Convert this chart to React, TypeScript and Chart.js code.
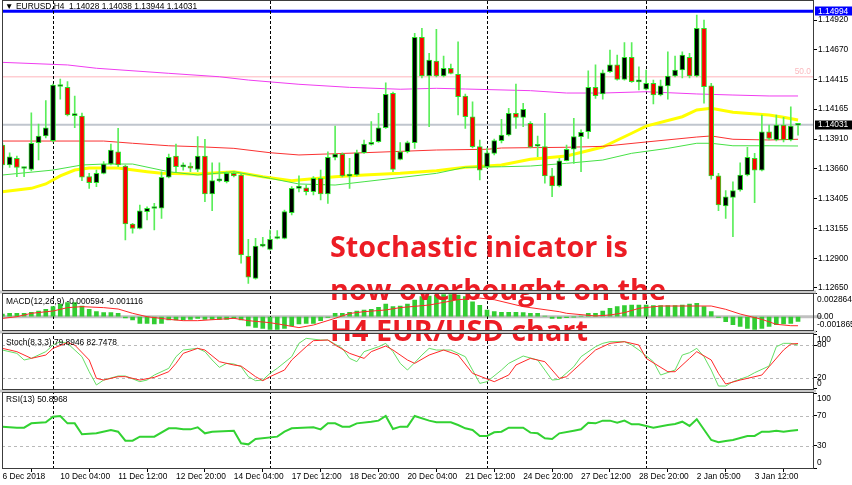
import React, { useEffect, useRef } from 'react';
import { Chart, registerables } from 'chart.js';

Chart.register(...registerables);

// ---------------- data ----------------
const xTickLabels = ['6 Dec 2018', '10 Dec 04:00', '11 Dec 12:00', '12 Dec 20:00', '14 Dec 04:00', '17 Dec 12:00', '18 Dec 20:00', '20 Dec 04:00', '21 Dec 12:00', '24 Dec 20:00', '27 Dec 12:00', '28 Dec 20:00', '2 Jan 05:00', '3 Jan 12:00'];
const xTickBars = [0, 8, 16, 24, 32, 40, 48, 56, 64, 72, 80, 88, 96, 104];
const separatorBars = [7, 37, 67, 89];

const opens = [1.13860, 1.13691, 1.13748, 1.13661, 1.13654, 1.13880, 1.13937, 1.13897, 1.14356, 1.14349, 1.14110, 1.14106, 1.13592, 1.13541, 1.13620, 1.13699, 1.13803, 1.13682, 1.13191, 1.13154, 1.13295, 1.13322, 1.13324, 1.13587, 1.13767, 1.13675, 1.13678, 1.13654, 1.13767, 1.13445, 1.13556, 1.13549, 1.13620, 1.13606, 1.12919, 1.12730, 1.13003, 1.12976, 1.13068, 1.13069, 1.13286, 1.13493, 1.13498, 1.13465, 1.13578, 1.13445, 1.13756, 1.13784, 1.13596, 1.13606, 1.13795, 1.13866, 1.13888, 1.14007, 1.14299, 1.13739, 1.13803, 1.13880, 1.14773, 1.14445, 1.14572, 1.14445, 1.14511, 1.14460, 1.14276, 1.14100, 1.13846, 1.13676, 1.13790, 1.13897, 1.13945, 1.14129, 1.14095, 1.14044, 1.13850, 1.13846, 1.13598, 1.13513, 1.13727, 1.13824, 1.13931, 1.13973, 1.14349, 1.14293, 1.14482, 1.14539, 1.14417, 1.14604, 1.14396, 1.14333, 1.14383, 1.14284, 1.14361, 1.14445, 1.14496, 1.14604, 1.14445, 1.14850, 1.14361, 1.13598, 1.13343, 1.13417, 1.13479, 1.13606, 1.13748, 1.13648, 1.13973, 1.13903, 1.14030, 1.13903, 1.14028];
const highs = [1.13877, 1.13795, 1.13767, 1.13674, 1.14134, 1.14038, 1.14236, 1.14377, 1.14420, 1.14397, 1.14276, 1.14132, 1.13620, 1.13648, 1.13719, 1.13869, 1.14002, 1.13691, 1.13197, 1.13352, 1.13337, 1.13366, 1.13634, 1.13784, 1.13869, 1.13710, 1.13710, 1.13931, 1.13909, 1.13710, 1.13710, 1.13634, 1.13631, 1.13620, 1.13061, 1.13069, 1.13078, 1.13140, 1.13134, 1.13309, 1.13507, 1.13598, 1.13521, 1.13592, 1.13648, 1.13803, 1.14021, 1.13795, 1.13748, 1.13818, 1.13903, 1.14058, 1.14129, 1.14388, 1.14310, 1.13880, 1.13894, 1.14807, 1.14850, 1.14638, 1.14841, 1.14615, 1.14547, 1.14736, 1.14293, 1.14227, 1.13903, 1.13835, 1.13911, 1.14078, 1.14171, 1.14377, 1.14214, 1.14058, 1.13937, 1.14129, 1.13663, 1.13748, 1.13860, 1.14087, 1.13988, 1.14490, 1.14539, 1.14496, 1.14666, 1.14623, 1.14728, 1.14728, 1.14524, 1.14496, 1.14411, 1.14411, 1.14651, 1.14615, 1.14651, 1.14638, 1.14962, 1.14920, 1.14383, 1.13620, 1.13473, 1.13549, 1.13710, 1.13841, 1.13790, 1.14115, 1.14030, 1.14115, 1.14095, 1.14185, 1.14038];
const lows = [1.13665, 1.13671, 1.13592, 1.13592, 1.13640, 1.13733, 1.13920, 1.13886, 1.14248, 1.14106, 1.14007, 1.13558, 1.13493, 1.13507, 1.13615, 1.13691, 1.13676, 1.13055, 1.13112, 1.13148, 1.13225, 1.13140, 1.13239, 1.13581, 1.13634, 1.13648, 1.13634, 1.13634, 1.13380, 1.13303, 1.13547, 1.13538, 1.13589, 1.12858, 1.12688, 1.12724, 1.12996, 1.12970, 1.13064, 1.13064, 1.13267, 1.13462, 1.13437, 1.13437, 1.13394, 1.13366, 1.13733, 1.13589, 1.13493, 1.13598, 1.13788, 1.13860, 1.13882, 1.14000, 1.13634, 1.13733, 1.13793, 1.13832, 1.14428, 1.14016, 1.14437, 1.14437, 1.14462, 1.14115, 1.14002, 1.13835, 1.13564, 1.13665, 1.13776, 1.13877, 1.13937, 1.14002, 1.14016, 1.13835, 1.13761, 1.13536, 1.13422, 1.13504, 1.13725, 1.13705, 1.13634, 1.13917, 1.14256, 1.14248, 1.14475, 1.14411, 1.14411, 1.14390, 1.14327, 1.14327, 1.14208, 1.14276, 1.14248, 1.14437, 1.14428, 1.14428, 1.14437, 1.14214, 1.13570, 1.13303, 1.13239, 1.13083, 1.13470, 1.13598, 1.13371, 1.13640, 1.13903, 1.13894, 1.13886, 1.13894, 1.13944];
const closes = [1.13691, 1.13761, 1.13671, 1.13664, 1.13875, 1.13937, 1.14007, 1.14369, 1.14361, 1.14115, 1.14113, 1.13587, 1.13541, 1.13620, 1.13699, 1.13818, 1.13691, 1.13191, 1.13154, 1.13303, 1.13324, 1.13325, 1.13587, 1.13756, 1.13676, 1.13677, 1.13665, 1.13767, 1.13445, 1.13558, 1.13559, 1.13620, 1.13598, 1.12928, 1.12739, 1.13004, 1.13005, 1.13061, 1.13070, 1.13295, 1.13493, 1.13513, 1.13465, 1.13578, 1.13445, 1.13756, 1.13784, 1.13598, 1.13598, 1.13795, 1.13869, 1.13880, 1.14007, 1.14290, 1.13654, 1.13803, 1.13880, 1.14773, 1.14445, 1.14581, 1.14445, 1.14511, 1.14468, 1.14270, 1.14100, 1.13846, 1.13648, 1.13795, 1.13897, 1.13945, 1.14129, 1.14095, 1.14163, 1.13841, 1.13853, 1.13598, 1.13513, 1.13727, 1.13824, 1.13931, 1.13968, 1.14349, 1.14278, 1.14473, 1.14539, 1.14417, 1.14604, 1.14397, 1.14399, 1.14383, 1.14284, 1.14361, 1.14445, 1.14496, 1.14623, 1.14445, 1.14850, 1.14354, 1.13598, 1.13352, 1.13422, 1.13473, 1.13606, 1.13756, 1.13648, 1.13973, 1.13917, 1.14030, 1.13903, 1.14021, 1.14031];

// moving averages: [bar index, price]
const yellowMA: [number, number][] = [[0, 1.13465], [4, 1.13493], [6, 1.13530], [8, 1.13598], [10, 1.13648], [12, 1.13665], [16, 1.13665], [20, 1.13634], [22, 1.13620], [27, 1.13615], [32, 1.13634], [36, 1.13592], [40, 1.13558], [41, 1.13564], [46, 1.13592], [50, 1.13606], [55, 1.13620], [60, 1.13643], [64, 1.13671], [67, 1.13682], [69, 1.13691], [73, 1.13739], [78, 1.13767], [83, 1.13843], [87, 1.13960], [89, 1.14021], [94, 1.14100], [96, 1.14157], [98, 1.14171], [101, 1.14138], [106, 1.14115], [108, 1.14095], [110, 1.14072]];
const redMA: [number, number][] = [[0, 1.13894], [14, 1.13894], [18, 1.13875], [23, 1.13854], [27, 1.13846], [32, 1.13832], [37, 1.13795], [41, 1.13776], [50, 1.13795], [60, 1.13818], [67, 1.13824], [69, 1.13835], [78, 1.13841], [83, 1.13849], [89, 1.13886], [96, 1.13928], [98, 1.13937], [101, 1.13909], [106, 1.13903], [110, 1.13909]];
const greenMA: [number, number][] = [[0, 1.13606], [7, 1.13648], [11, 1.13691], [14, 1.13699], [18, 1.13699], [23, 1.13634], [27, 1.13606], [32, 1.13634], [37, 1.13578], [41, 1.13530], [46, 1.13521], [50, 1.13549], [60, 1.13620], [64, 1.13671], [69, 1.13676], [73, 1.13682], [78, 1.13705], [83, 1.13733], [87, 1.13790], [92, 1.13832], [96, 1.13875], [98, 1.13875], [101, 1.13854], [106, 1.13854], [110, 1.13852]];
const magentaMA: [number, number][] = [[0, 1.14561], [9, 1.14539], [13, 1.14511], [23, 1.14468], [30, 1.14439], [34, 1.14411], [41, 1.14375], [48, 1.14349], [55, 1.14333], [60, 1.14341], [64, 1.14335], [73, 1.14321], [78, 1.14301], [83, 1.14301], [89, 1.14312], [96, 1.14293], [101, 1.14284], [106, 1.14276], [110, 1.14276]];

const priceTicks = [1.1492, 1.1467, 1.14415, 1.14165, 1.1391, 1.1366, 1.13405, 1.13155, 1.129, 1.1265];
const blueLineLevel = 1.14994;
const bidLevel = 1.14031;
const fiboLevel = 1.14439;
const fiboLabel = '50.0';

const macdHist = [0.00033, 0.00042, 0.00042, 0.00042, 0.00054, 0.00070, 0.00091, 0.00124, 0.00157, 0.00173, 0.00173, 0.00132, 0.00091, 0.00062, 0.00050, 0.00050, 0.00042, -0.00016, -0.00041, -0.00082, -0.00082, -0.00090, -0.00082, -0.00041, -0.00041, -0.00041, -0.00033, -0.00020, -0.00033, -0.00033, -0.00033, -0.00033, -0.00020, -0.00041, -0.00115, -0.00131, -0.00144, -0.00156, -0.00156, -0.00144, -0.00115, -0.00090, -0.00082, -0.00082, -0.00049, -0.00008, 0.00042, 0.00042, 0.00054, 0.00070, 0.00083, 0.00091, 0.00116, 0.00157, 0.00124, 0.00132, 0.00157, 0.00206, 0.00247, 0.00255, 0.00263, 0.00272, 0.00272, 0.00268, 0.00247, 0.00185, 0.00140, 0.00083, 0.00062, 0.00054, 0.00054, 0.00054, 0.00050, 0.00042, 0.00042, 0.00009, -0.00020, -0.00020, -0.00012, -0.00001, 0.00009, 0.00042, 0.00042, 0.00070, 0.00103, 0.00124, 0.00136, 0.00144, 0.00144, 0.00144, 0.00136, 0.00136, 0.00136, 0.00136, 0.00144, 0.00157, 0.00165, 0.00124, 0.00062, -0.00008, -0.00061, -0.00099, -0.00119, -0.00144, -0.00156, -0.00144, -0.00119, -0.00099, -0.00090, -0.00082, -0.000594];
const macdSignal: [number, number][] = [[0, -0.00021], [2, 0], [4, 0.00042], [7, 0.0007], [9, 0.00112], [11, 0.00124], [14, 0.00112], [16, 0.00095], [18, 0.00042], [20, 0], [23, -0.00033], [25, -0.00049], [27, -0.00049], [32, -0.0002], [34, -0.00049], [37, -0.00074], [39, -0.00103], [41, -0.00135], [43, -0.00103], [46, -0.0002], [48, 0.0004], [50, 0.00062], [53, 0.00083], [55, 0.00112], [59, 0.00144], [63, 0.0021], [66, 0.0023], [68, 0.0021], [72, 0.00124], [77, 0.00062], [78, 0.00042], [82, 0.00009], [84, 0.00021], [86, 0.0005], [88, 0.00103], [91, 0.00132], [95, 0.00132], [98, 0.00132], [100, 0.00091], [102, 0.00033], [105, -0.00033], [107, -0.00094], [109, -0.00111], [110, -0.001116]];
const macdTicks = [0.002864, 0, -0.001865];
const macdTickLabels = ['0.002864', '0.00', '-0.001865'];

const stochK: [number, number][] = [[0, 70.8], [2, 64.7], [3, 52.5], [4, 55.5], [6, 67.8], [7, 80], [8, 86.1], [9, 83.1], [11, 58.6], [12, 31], [13, 6.6], [14, 15.7], [16, 23.1], [17, 23.1], [19, 12.7], [20, 15.7], [21, 24.9], [23, 37.2], [24, 58.6], [25, 70.8], [27, 73.9], [28, 67.8], [29, 52.5], [30, 39], [31, 46.3], [32, 45.1], [33, 40.2], [34, 21.9], [35, 14.5], [36, 15.7], [37, 28], [38, 37.2], [40, 58.6], [41, 83.1], [42, 92.2], [44, 89.2], [45, 89.2], [47, 73.9], [48, 55.5], [49, 49.4], [50, 67.8], [52, 76.9], [53, 83.1], [54, 67.8], [55, 46.3], [56, 34.1], [57, 47.6], [58, 61.6], [59, 73.9], [60, 70.8], [62, 70.8], [64, 58.6], [65, 34.1], [66, 9.6], [67, 12.7], [69, 34.1], [70, 46.3], [72, 59.8], [74, 52.5], [75, 34.1], [76, 15.7], [77, 17], [79, 40.2], [80, 58.6], [82, 76.9], [83, 83.1], [84, 86.1], [86, 86.1], [87, 80], [88, 70.8], [90, 49.4], [91, 24.9], [93, 34.1], [94, 61.6], [95, 65.9], [96, 73.9], [97, 58.6], [98, 34.1], [99, 4.7], [100, 4.7], [101, 12.7], [103, 21.9], [104, 29.2], [106, 41.4], [107, 76.9], [108, 83.1], [109, 83.1], [110, 79.8946]];
const stochD: [number, number][] = [[0, 73.9], [2, 67.8], [4, 55.5], [6, 61.6], [7, 73.9], [9, 84.3], [10, 80], [12, 52.5], [13, 18.8], [14, 15.7], [16, 21.9], [17, 21.9], [19, 15.7], [21, 20.6], [23, 31], [24, 46.3], [25, 64.7], [27, 73.9], [28, 70.8], [30, 49.4], [32, 43.3], [33, 41.4], [35, 21.9], [36, 14.5], [37, 21.9], [39, 34.1], [40, 52.5], [42, 76.9], [43, 88], [45, 89.2], [46, 80], [48, 64.7], [50, 55.5], [51, 67.8], [53, 78.2], [54, 70.8], [56, 52.5], [57, 46.3], [59, 61.6], [61, 70.8], [63, 61.6], [65, 28], [68, 12.7], [70, 24.9], [71, 43.3], [73, 55.5], [75, 49.4], [77, 18.8], [78, 21.9], [80, 46.3], [82, 70.8], [84, 83.1], [86, 86.1], [88, 80], [89, 55.5], [92, 31], [93, 31], [95, 55.5], [96, 67.8], [98, 52.5], [99, 28], [100, 8.4], [102, 15.7], [105, 24.9], [106, 40.2], [108, 70.8], [109, 81.8], [110, 82.7478]];
const stochTicks = [100, 80, 20, 0];
const stochLevels = [80, 20];

const rsiLine: [number, number][] = [[0, 55.4], [2, 54.0], [3, 54.0], [4, 59.8], [6, 61.2], [7, 68.7], [8, 69.6], [9, 59.8], [10, 59.8], [11, 45.2], [13, 46.5], [15, 50.9], [16, 48.7], [17, 36.7], [18, 36.7], [19, 42.1], [21, 42.1], [23, 53.2], [24, 53.2], [25, 51.8], [26, 51.8], [27, 54.5], [28, 46.5], [29, 48.7], [32, 50.0], [33, 33.2], [34, 31.8], [35, 38.9], [38, 42.1], [39, 48.7], [40, 53.2], [43, 54.5], [44, 51.8], [45, 59.8], [46, 59.8], [47, 55.4], [48, 55.4], [49, 59.8], [51, 62.0], [52, 63.4], [53, 69.6], [54, 52.3], [55, 55.4], [56, 55.4], [57, 69.6], [59, 63.4], [60, 61.2], [62, 61.2], [63, 57.6], [64, 53.2], [65, 50.9], [66, 43], [67, 43], [68, 47.8], [69, 48.7], [70, 54.0], [72, 54.0], [73, 47.4], [74, 46.5], [75, 39.8], [76, 38.9], [77, 46.5], [79, 50.0], [80, 51.8], [81, 60.7], [82, 59.8], [83, 63.4], [84, 63.4], [85, 60.7], [86, 63.4], [87, 58.5], [88, 58.5], [90, 54.0], [92, 57.6], [93, 58.9], [94, 62.0], [95, 56.3], [96, 65.2], [98, 37.6], [99, 34.5], [100, 36.3], [101, 37.6], [103, 43], [104, 43], [105, 48.7], [106, 48.7], [107, 50], [108, 48.7], [109, 50], [110, 50.8968]];
const rsiTicks = [100, 70, 30, 0];
const rsiLevels = [70, 30];

const headerMarker = '\u25BC';
const headerText = 'EURUSD,H4  1.14028 1.14038 1.13944 1.14031';
const macdTitle = 'MACD(12,26,9) -0.000594 -0.001116';
const stochTitle = 'Stoch(8,3,3) 79.8946 82.7478';
const rsiTitle = 'RSI(13) 50.8968';
const noteLines = ['Stochastic inicator is', 'now overbought on the', 'H4 EUR/USD chart'];

// ---------------- layout / style ----------------
const W = 852;
const H = 485;
const FONT_FAMILY = '"Liberation Sans", "DejaVu Sans", Arial, sans-serif';
const SMALL = 8.4;
const smallFont = `${SMALL}px ${FONT_FAMILY}`;
const PLOT_LEFT = 2;
const PLOT_RIGHT = 813;
const FRAMES = [
  { top: 0.5, bottom: 290.5 },
  { top: 293.5, bottom: 330.5 },
  { top: 333.5, bottom: 389.5 },
  { top: 392.5, bottom: 468.5 },
];

const pts = (arr: [number, number][]) => arr.map(([x, y]) => ({ x, y }));

function hLine(ctx: CanvasRenderingContext2D, y: number, x0: number, x1: number, color: string, width: number, dash?: number[]) {
  ctx.save();
  ctx.beginPath();
  ctx.strokeStyle = color;
  ctx.lineWidth = width;
  if (dash) ctx.setLineDash(dash);
  ctx.moveTo(x0, y);
  ctx.lineTo(x1, y);
  ctx.stroke();
  ctx.restore();
}

const clamp = (v: number, a: number, b: number) => Math.max(a, Math.min(b, v));

const mt4Plugin = {
  id: 'mt4',
  beforeDatasetsDraw(chart: any) {
    const { ctx, chartArea, scales } = chart;
    const L = chartArea.left;
    const R = chartArea.right;
    const ym = scales.yMain;
    hLine(ctx, ym.getPixelForValue(fiboLevel), L, R, 'rgb(255,205,210)', 1.5);
    hLine(ctx, ym.getPixelForValue(bidLevel), L, R, 'rgb(192,198,206)', 2);
    hLine(ctx, ym.getPixelForValue(blueLineLevel), L, R, '#0000ff', 3);
    hLine(ctx, scales.yMacd.getPixelForValue(0), L, R + 9, 'rgb(192,192,192)', 3);
    stochLevels.forEach((v) => hLine(ctx, Math.round(scales.yStoch.getPixelForValue(v)) + 0.5, L, R, 'rgb(185,185,185)', 1, [3, 3]));
    rsiLevels.forEach((v) => hLine(ctx, Math.round(scales.yRsi.getPixelForValue(v)) + 0.5, L, R, 'rgb(185,185,185)', 1, [3, 3]));
    ctx.save();
    ctx.strokeStyle = '#000';
    ctx.lineWidth = 1;
    ctx.setLineDash([3, 2]);
    separatorBars.forEach((b) => {
      const x = Math.round(scales.x.getPixelForValue(b)) + 0.5;
      ctx.beginPath();
      ctx.moveTo(x, chartArea.top);
      ctx.lineTo(x, chartArea.bottom);
      ctx.stroke();
    });
    ctx.restore();
  },
  afterDatasetsDraw(chart: any) {
    const { ctx } = chart;
    ctx.save();
    ctx.font = `bold 30px "Open Sans", "Noto Sans", sans-serif`;
    const w = ctx.measureText(noteLines[0]).width;
    const size = (30 * 298) / w;
    ctx.font = `bold ${size}px "Open Sans", "Noto Sans", sans-serif`;
    ctx.fillStyle = '#ec1c24';
    ctx.textAlign = 'left';
    ctx.textBaseline = 'alphabetic';
    const baselines = [257, 300, 341];
    noteLines.forEach((t, i) => ctx.fillText(t, 330, baselines[i]));
    ctx.restore();
  },
  afterDraw(chart: any) {
    const { ctx, scales } = chart;
    ctx.save();
    // pane gaps
    ctx.fillStyle = 'rgb(200,200,200)';
    for (let i = 0; i < FRAMES.length - 1; i++) {
      ctx.fillRect(0, FRAMES[i].bottom, PLOT_RIGHT + 3, FRAMES[i + 1].top - FRAMES[i].bottom);
    }
    ctx.strokeStyle = 'rgb(60,60,60)';
    ctx.lineWidth = 1;
    FRAMES.forEach((f) => {
      ctx.strokeRect(PLOT_LEFT + 0.5, f.top, PLOT_RIGHT - PLOT_LEFT, f.bottom - f.top);
    });

    // titles
    ctx.fillStyle = '#000';
    ctx.font = smallFont;
    ctx.textAlign = 'left';
    ctx.textBaseline = 'middle';
    ctx.fillText(headerMarker, 5, 6.5);
    ctx.fillText(headerText, 16, 6.5);
    ctx.fillText(macdTitle, 6, FRAMES[1].top + 8);
    ctx.fillText(stochTitle, 6, FRAMES[2].top + 9);
    ctx.fillText(rsiTitle, 6, FRAMES[3].top + 7.5);

    // sub-pane axis labels (clamped inside pane, MT4 style)
    const drawAxis = (scale: any, values: number[], labels: string[], f: { top: number; bottom: number }) => {
      values.forEach((v, i) => {
        const y = clamp(scale.getPixelForValue(v), f.top + 6, f.bottom - 6);
        ctx.fillText(labels[i], 817, y);
      });
    };
    drawAxis(scales.yMacd, macdTicks, macdTickLabels, FRAMES[1]);
    drawAxis(scales.yStoch, stochTicks, stochTicks.map(String), FRAMES[2]);
    drawAxis(scales.yRsi, rsiTicks, rsiTicks.map(String), FRAMES[3]);

    // price boxes
    const ym = scales.yMain;
    const box = (v: number, bg: string) => {
      const y = ym.getPixelForValue(v);
      ctx.fillStyle = bg;
      ctx.fillRect(815, Math.round(y) - 4.5, W - 815, 9);
      ctx.fillStyle = '#fff';
      ctx.fillText(v.toFixed(5), 818, y);
    };
    box(blueLineLevel, '#0000ff');
    box(bidLevel, '#000');

    // fibo label
    ctx.fillStyle = 'rgb(250,185,190)';
    ctx.textAlign = 'right';
    ctx.fillText(fiboLabel, 811, ym.getPixelForValue(fiboLevel) - 5);
    ctx.restore();
  },
};

export default function App() {
  const ref = useRef<HTMLCanvasElement>(null);
  useEffect(() => {
    const lime = 'rgb(40,228,40)';
    const wick = 'rgb(90,238,90)';
    const bodies = opens.map((o, i) => ({ x: i, y: [o, closes[i]] }));
    const wicks = lows.map((l, i) => ({ x: i, y: [l, highs[i]] }));
    const bodyColors = opens.map((o, i) => (closes[i] >= o ? '#000000' : '#ff0000'));
    const tickFont = { family: FONT_FAMILY, size: SMALL };
    const yCommon = (weight: number, min: number, max: number, ticks: number[], showLabels: boolean) => ({
      type: 'linear',
      position: 'right',
      stack: 'panes',
      stackWeight: weight,
      min,
      max,
      bounds: 'data',
      grid: { drawOnChartArea: false, drawTicks: true, tickLength: 4, color: '#000' },
      border: { display: true, color: '#000' },
      ticks: {
        display: showLabels,
        autoSkip: false,
        padding: 1,
        font: tickFont,
        color: '#000',
        callback: (v: number) => v.toFixed(5),
      },
      afterBuildTicks: (s: any) => {
        s.ticks = ticks.map((v) => ({ value: v }));
      },
      afterFit: (s: any) => {
        s.width = W - PLOT_RIGHT;
        s.paddingTop = 0;
        s.paddingBottom = 0;
      },
    });

    const chart = new Chart(ref.current as HTMLCanvasElement, {
      type: 'bar',
      data: {
        datasets: [
          { type: 'bar', label: 'body', data: bodies, xAxisID: 'x', yAxisID: 'yMain', backgroundColor: bodyColors, borderColor: lime, borderWidth: 1, borderSkipped: false, barThickness: 5, minBarLength: 2, grouped: false, order: 0 },
          { type: 'bar', label: 'wick', data: wicks, xAxisID: 'x', yAxisID: 'yMain', backgroundColor: wick, borderWidth: 0, barThickness: 1, grouped: false, order: 1 },
          { type: 'line', label: 'MA yellow', data: pts(yellowMA), xAxisID: 'x', yAxisID: 'yMain', borderColor: '#ffff00', borderWidth: 3, pointRadius: 0, tension: 0, order: 4 },
          { type: 'line', label: 'MA red', data: pts(redMA), xAxisID: 'x', yAxisID: 'yMain', borderColor: 'rgb(250,50,50)', borderWidth: 1, pointRadius: 0, tension: 0, order: 3 },
          { type: 'line', label: 'MA green', data: pts(greenMA), xAxisID: 'x', yAxisID: 'yMain', borderColor: 'rgb(70,225,70)', borderWidth: 1, pointRadius: 0, tension: 0, order: 3 },
          { type: 'line', label: 'MA magenta', data: pts(magentaMA), xAxisID: 'x', yAxisID: 'yMain', borderColor: 'rgb(240,60,240)', borderWidth: 1, pointRadius: 0, tension: 0, order: 3 },
          { type: 'bar', label: 'MACD', data: macdHist.map((v, i) => ({ x: i, y: v })), xAxisID: 'x', yAxisID: 'yMacd', backgroundColor: 'rgb(50,205,50)', borderWidth: 0, barThickness: 4, grouped: false, order: 5 },
          { type: 'line', label: 'Signal', data: pts(macdSignal), xAxisID: 'x', yAxisID: 'yMacd', borderColor: 'rgb(255,40,40)', borderWidth: 1, pointRadius: 0, tension: 0, order: 2 },
          { type: 'line', label: '%K', data: pts(stochK), xAxisID: 'x', yAxisID: 'yStoch', borderColor: 'rgb(100,222,100)', borderWidth: 1, pointRadius: 0, tension: 0, order: 3 },
          { type: 'line', label: '%D', data: pts(stochD), xAxisID: 'x', yAxisID: 'yStoch', borderColor: 'rgb(255,40,40)', borderWidth: 1, pointRadius: 0, tension: 0, order: 2 },
          { type: 'line', label: 'RSI', data: pts(rsiLine), xAxisID: 'x', yAxisID: 'yRsi', borderColor: 'rgb(50,210,50)', borderWidth: 2, pointRadius: 0, tension: 0, order: 2 },
        ],
      } as any,
      options: {
        responsive: false,
        animation: false,
        devicePixelRatio: 1,
        layout: { padding: { left: PLOT_LEFT, top: 1, right: 0, bottom: 0 } },
        plugins: { legend: { display: false }, tooltip: { enabled: false } },
        scales: {
          x: {
            type: 'linear',
            position: 'bottom',
            min: -0.055,
            max: 112.07,
            bounds: 'data',
            offset: false,
            grid: { drawOnChartArea: false, drawTicks: true, tickLength: 4, color: '#000' },
            border: { display: true, color: '#000' },
            ticks: {
              autoSkip: false,
              maxRotation: 0,
              minRotation: 0,
              align: 'start',
              padding: 0,
              font: tickFont,
              color: '#000',
              callback: (_v: number, i: number) => xTickLabels[i] ?? '',
            },
            afterBuildTicks: (s: any) => {
              s.ticks = xTickBars.map((v) => ({ value: v }));
            },
            afterFit: (s: any) => {
              s.height = 17;
              s.paddingLeft = 0;
              s.paddingRight = 0;
            },
          },
          yMain: yCommon(290.5, 1.126185, 1.150811, priceTicks, true),
          yMacd: yCommon(40.5, -0.001889, 0.003111, macdTicks, false),
          yStoch: yCommon(58.5, -3.5, 103.9, stochTicks, false),
          yRsi: yCommon(77.5, 0.27, 103.6, rsiTicks, false),
        } as any,
      },
      plugins: [mt4Plugin],
    } as any);
    return () => chart.destroy();
  }, []);

  return (
    <div style={{ position: 'fixed', left: 0, top: 0, width: W, height: H, background: '#fff' }}>
      <canvas ref={ref} width={W} height={H} style={{ display: 'block', width: W, height: H }} />
    </div>
  );
}
